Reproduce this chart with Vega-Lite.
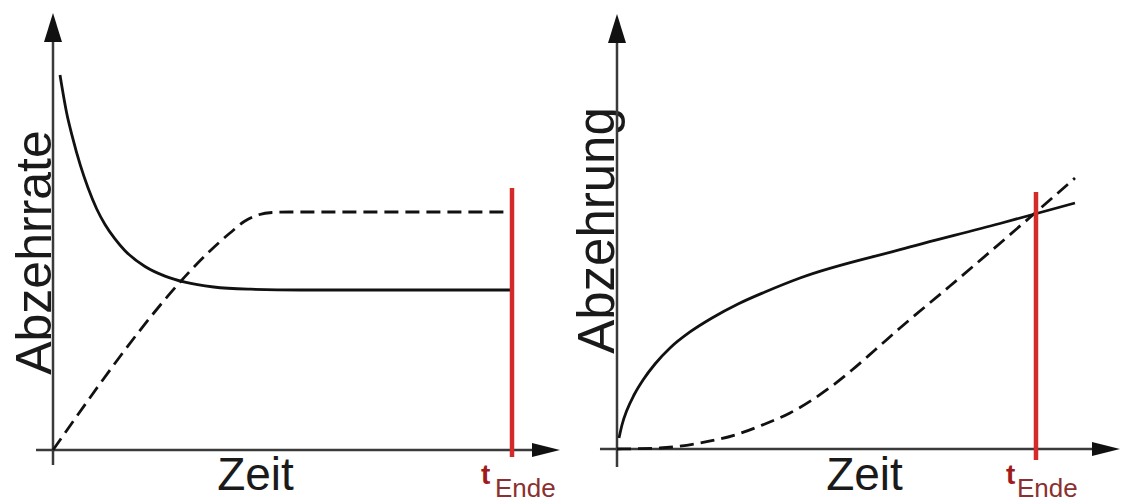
{
  "$schema": "https://vega.github.io/schema/vega-lite/v6.json",
  "padding": 0,
  "background": "white",
  "spacing": 0,
  "bounds": "flush",
  "config": {
    "view": {"stroke": null},
    "axis": {"domain": false, "ticks": false, "labels": false, "grid": false, "titleFont": "Liberation Sans", "titleFontWeight": "normal", "titleColor": "#1a1a1a"}
  },
  "datasets": {
    "kurven_links": [
      {"kurve": "durchgezogen", "t": 0.1525, "v": 85.81},
      {"kurve": "durchgezogen", "t": 0.3, "v": 77.0},
      {"kurve": "durchgezogen", "t": 0.414, "v": 72.0},
      {"kurve": "durchgezogen", "t": 0.6, "v": 65.0},
      {"kurve": "durchgezogen", "t": 0.7625, "v": 60.0},
      {"kurve": "durchgezogen", "t": 0.95, "v": 55.2},
      {"kurve": "durchgezogen", "t": 1.133, "v": 51.6},
      {"kurve": "durchgezogen", "t": 1.35, "v": 48.3},
      {"kurve": "durchgezogen", "t": 1.569, "v": 45.6},
      {"kurve": "durchgezogen", "t": 2.004, "v": 42.0},
      {"kurve": "durchgezogen", "t": 2.44, "v": 39.8},
      {"kurve": "durchgezogen", "t": 2.876, "v": 38.4},
      {"kurve": "durchgezogen", "t": 3.5, "v": 37.3},
      {"kurve": "durchgezogen", "t": 4.3, "v": 36.8},
      {"kurve": "durchgezogen", "t": 5.4, "v": 36.61},
      {"kurve": "durchgezogen", "t": 10.0, "v": 36.61},
      {"kurve": "gestrichelt", "t": 0.0, "v": 0.0},
      {"kurve": "gestrichelt", "t": 3.856, "v": 49.66},
      {"kurve": "gestrichelt", "t": 4.183, "v": 52.4},
      {"kurve": "gestrichelt", "t": 4.466, "v": 53.78},
      {"kurve": "gestrichelt", "t": 4.771, "v": 54.35},
      {"kurve": "gestrichelt", "t": 5.163, "v": 54.46},
      {"kurve": "gestrichelt", "t": 10.0, "v": 54.46}
    ],
    "achsen_links": [
      {"achse": "y", "t": 0, "t2": 0, "v": -3.43, "v2": 96},
      {"achse": "x", "t": -0.37, "t2": 10.8, "v": 0, "v2": 0}
    ],
    "kurven_rechts": [
      {"kurve": "durchgezogen", "t": 0.048, "v": 2.53},
      {"kurve": "durchgezogen", "t": 0.119, "v": 5.52},
      {"kurve": "durchgezogen", "t": 0.239, "v": 8.97},
      {"kurve": "durchgezogen", "t": 0.406, "v": 12.41},
      {"kurve": "durchgezogen", "t": 0.621, "v": 15.86},
      {"kurve": "durchgezogen", "t": 0.907, "v": 19.54},
      {"kurve": "durchgezogen", "t": 1.265, "v": 23.22},
      {"kurve": "durchgezogen", "t": 1.742, "v": 26.9},
      {"kurve": "durchgezogen", "t": 2.267, "v": 30.11},
      {"kurve": "durchgezogen", "t": 2.888, "v": 33.33},
      {"kurve": "durchgezogen", "t": 3.532, "v": 36.09},
      {"kurve": "durchgezogen", "t": 4.368, "v": 39.31},
      {"kurve": "durchgezogen", "t": 6.754, "v": 45.82},
      {"kurve": "durchgezogen", "t": 9.141, "v": 51.84},
      {"kurve": "durchgezogen", "t": 10.931, "v": 56.55},
      {"kurve": "gestrichelt", "t": 0.0, "v": 0.0},
      {"kurve": "gestrichelt", "t": 1.026, "v": 0.23},
      {"kurve": "gestrichelt", "t": 1.981, "v": 1.38},
      {"kurve": "gestrichelt", "t": 2.816, "v": 3.22},
      {"kurve": "gestrichelt", "t": 3.532, "v": 5.75},
      {"kurve": "gestrichelt", "t": 4.129, "v": 8.28},
      {"kurve": "gestrichelt", "t": 4.654, "v": 11.26},
      {"kurve": "gestrichelt", "t": 5.131, "v": 14.48},
      {"kurve": "gestrichelt", "t": 5.609, "v": 18.16},
      {"kurve": "gestrichelt", "t": 6.158, "v": 22.76},
      {"kurve": "gestrichelt", "t": 6.754, "v": 27.82},
      {"kurve": "gestrichelt", "t": 7.947, "v": 37.47},
      {"kurve": "gestrichelt", "t": 9.976, "v": 54.25},
      {"kurve": "gestrichelt", "t": 10.931, "v": 62.3}
    ],
    "achsen_rechts": [
      {"achse": "y", "t": 0, "t2": 0, "v": -4.14, "v2": 96},
      {"achse": "x", "t": -0.406, "t2": 11.7, "v": 0, "v2": 0}
    ]
  },
  "hconcat": [
    {
      "width": 561,
      "height": 503,
      "encoding": {
        "x": {"field": "t", "type": "quantitative", "scale": {"domain": [-1.1547, 11.0675], "nice": false, "zero": false},
              "axis": {"title": "Zeit", "titleFontSize": 46, "titleX": 255, "titleY": -14, "titleAlign": "center", "titleBaseline": "alphabetic"}},
        "y": {"field": "v", "type": "quantitative", "scale": {"domain": [-12.128, 102.975], "nice": false, "zero": false},
              "axis": {"title": "Abzehrrate", "titleFontSize": 50, "titleX": 50, "titleY": 252, "titleAngle": 270, "titleAlign": "center", "titleBaseline": "alphabetic"}}
      },
      "layer": [
        {
          "data": {"name": "achsen_links"},
          "mark": {"type": "rule", "color": "#3a3a3a", "strokeWidth": 2.5},
          "encoding": {"x2": {"field": "t2"}, "y2": {"field": "v2"}}
        },
        {
          "data": {"values": [{"t": 0, "v": 100}]},
          "mark": {"type": "point", "shape": "M0,0L0.62,2L-0.62,2Z", "size": 841, "filled": true, "color": "#111111", "opacity": 1, "strokeWidth": 0}
        },
        {
          "data": {"values": [{"t": 11.046, "v": 0}]},
          "mark": {"type": "point", "shape": "M0,0L-2,-0.5L-2,0.5Z", "size": 784, "filled": true, "color": "#111111", "opacity": 1, "strokeWidth": 0}
        },
        {
          "data": {"name": "kurven_links"},
          "transform": [{"filter": "datum.kurve === 'durchgezogen'"}],
          "mark": {"type": "line", "color": "#111111", "strokeWidth": 2.8, "interpolate": "monotone"}
        },
        {
          "data": {"name": "kurven_links"},
          "transform": [{"filter": "datum.kurve === 'gestrichelt'"}],
          "mark": {"type": "line", "color": "#111111", "strokeWidth": 2.8, "strokeDash": [14, 7], "interpolate": "monotone"}
        },
        {
          "data": {"values": [{"t": 10, "v": 59.95, "v2": -1.6}]},
          "mark": {"type": "rule", "color": "#d42a2a", "strokeWidth": 4.5},
          "encoding": {"y2": {"field": "v2"}}
        },
        {
          "data": {"values": [{"text": "t", "t": 10, "v": 0}]},
          "mark": {"type": "text", "font": "Liberation Sans", "fontWeight": "bold", "fontSize": 28, "color": "#9e1c1c", "align": "left", "baseline": "alphabetic", "dx": -31, "dy": 34},
          "encoding": {"text": {"field": "text"}}
        },
        {
          "data": {"values": [{"text": "Ende", "t": 10, "v": 0}]},
          "mark": {"type": "text", "font": "Liberation Sans", "fontSize": 26, "color": "#8b3030", "align": "left", "baseline": "alphabetic", "dx": -17, "dy": 47},
          "encoding": {"text": {"field": "text"}}
        }
      ]
    },
    {
      "width": 561,
      "height": 503,
      "encoding": {
        "x": {"field": "t", "type": "quantitative", "scale": {"domain": [-1.3365, 12.053], "nice": false, "zero": false},
              "axis": {"title": "Zeit", "titleFontSize": 46, "titleX": 303, "titleY": -14, "titleAlign": "center", "titleBaseline": "alphabetic"}},
        "y": {"field": "v", "type": "quantitative", "scale": {"domain": [-12.414, 103.218], "nice": false, "zero": false},
              "axis": {"title": "Abzehrung", "titleFontSize": 51, "titleX": 52, "titleY": 230, "titleAngle": 270, "titleAlign": "center", "titleBaseline": "alphabetic"}}
      },
      "layer": [
        {
          "data": {"name": "achsen_rechts"},
          "mark": {"type": "rule", "color": "#3a3a3a", "strokeWidth": 2.5},
          "encoding": {"x2": {"field": "t2"}, "y2": {"field": "v2"}}
        },
        {
          "data": {"values": [{"t": 0, "v": 100}]},
          "mark": {"type": "point", "shape": "M0,0L0.62,2L-0.62,2Z", "size": 841, "filled": true, "color": "#111111", "opacity": 1, "strokeWidth": 0}
        },
        {
          "data": {"values": [{"t": 12.005, "v": 0}]},
          "mark": {"type": "point", "shape": "M0,0L-2,-0.5L-2,0.5Z", "size": 784, "filled": true, "color": "#111111", "opacity": 1, "strokeWidth": 0}
        },
        {
          "data": {"name": "kurven_rechts"},
          "transform": [{"filter": "datum.kurve === 'durchgezogen'"}],
          "mark": {"type": "line", "color": "#111111", "strokeWidth": 2.8, "interpolate": "monotone"}
        },
        {
          "data": {"name": "kurven_rechts"},
          "transform": [{"filter": "datum.kurve === 'gestrichelt'"}],
          "mark": {"type": "line", "color": "#111111", "strokeWidth": 2.8, "strokeDash": [14, 7], "interpolate": "monotone"}
        },
        {
          "data": {"values": [{"t": 10, "v": 59.08, "v2": -2.53}]},
          "mark": {"type": "rule", "color": "#d42a2a", "strokeWidth": 4.5},
          "encoding": {"y2": {"field": "v2"}}
        },
        {
          "data": {"values": [{"text": "t", "t": 10, "v": 0}]},
          "mark": {"type": "text", "font": "Liberation Sans", "fontWeight": "bold", "fontSize": 28, "color": "#9e1c1c", "align": "left", "baseline": "alphabetic", "dx": -30, "dy": 35},
          "encoding": {"text": {"field": "text"}}
        },
        {
          "data": {"values": [{"text": "Ende", "t": 10, "v": 0}]},
          "mark": {"type": "text", "font": "Liberation Sans", "fontSize": 26, "color": "#8b3030", "align": "left", "baseline": "alphabetic", "dx": -19, "dy": 48},
          "encoding": {"text": {"field": "text"}}
        }
      ]
    }
  ]
}
